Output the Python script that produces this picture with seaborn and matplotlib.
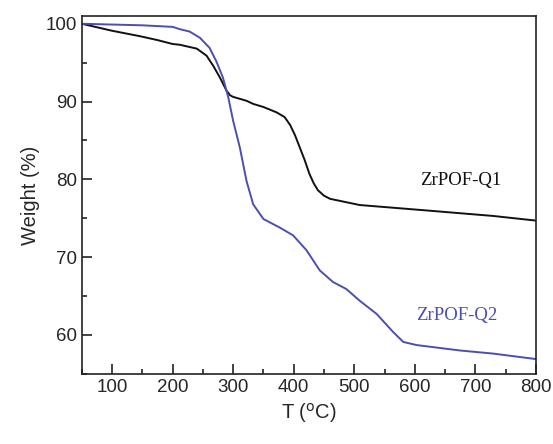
import matplotlib.pyplot as plt
import seaborn as sns
import pandas as pd
from matplotlib.ticker import MultipleLocator

# TGA curves
temp_q1 = [50, 100, 146, 175, 200, 212, 240, 256, 267, 278, 289, 295, 300, 322, 333, 350, 372,
           385, 394, 402, 410, 418, 426, 433, 440, 450, 460, 509, 620, 729, 800]
weight_q1 = [100, 99.1, 98.4, 97.9, 97.4, 97.3, 96.8, 95.9, 94.6, 93.1, 91.4, 90.8, 90.6, 90.1,
             89.7, 89.3, 88.6, 88.0, 87.0, 85.7, 84.1, 82.5, 80.7, 79.5, 78.6, 77.9, 77.5,
             76.7, 76.0, 75.3, 74.7]

temp_q2 = [50, 100, 150, 200, 212, 228, 245, 261, 272, 283, 292, 300, 311, 322, 333, 350, 377,
           399, 421, 443, 465, 487, 509, 537, 564, 581, 603, 675, 730, 800]
weight_q2 = [100, 99.9, 99.8, 99.6, 99.3, 99.0, 98.2, 96.9, 95.2, 93.1, 90.5, 87.5, 84.1, 79.8,
             76.8, 74.9, 73.8, 72.8, 70.9, 68.3, 66.8, 65.9, 64.4, 62.7, 60.4, 59.1, 58.7, 58.0, 57.6, 56.9]

labels = ["ZrPOF-Q1", "ZrPOF-Q2"]
colors = ["#111111", "#4a4fb0"]

df = pd.concat([
    pd.DataFrame({"T": temp_q1, "W": weight_q1, "sample": labels[0]}),
    pd.DataFrame({"T": temp_q2, "W": weight_q2, "sample": labels[1]}),
])

sns.set_style("ticks")
plt.rcParams['font.family'] = ['Liberation Sans', 'DejaVu Sans']

fig = plt.figure(figsize=(5.53, 4.44), dpi=100)
ax = fig.add_axes([0.148, 0.158, 0.821, 0.806])
sns.lineplot(data=df, x="T", y="W", hue="sample", palette=colors,
             linewidth=1.4, legend=False, ax=ax, sort=False)

ax.set_xlim(50, 800)
ax.set_ylim(55, 101)
ax.xaxis.set_major_locator(MultipleLocator(100))
ax.xaxis.set_minor_locator(MultipleLocator(50))
ax.yaxis.set_major_locator(MultipleLocator(10))
ax.yaxis.set_minor_locator(MultipleLocator(5))
ax.tick_params(which="both", direction="in", labelsize=13.5, width=1.2, color="#222222")
ax.tick_params(which="major", length=7)
ax.tick_params(which="minor", length=3.5)
for s in ax.spines.values():
    s.set_linewidth(1.2)
    s.set_color("#222222")

ax.set_xlabel("T ($^{\\rm o}$C)", fontsize=14.5)
ax.set_ylabel("Weight (%)", fontsize=14.5)

ax.text(675, 79.8, labels[0], color=colors[0], fontsize=13.5,
        family="Liberation Serif", ha="center", va="center")
ax.text(669, 62.5, labels[1], color=colors[1], fontsize=13.5,
        family="Liberation Serif", ha="center", va="center")

fig.savefig("out.png", dpi=100)
